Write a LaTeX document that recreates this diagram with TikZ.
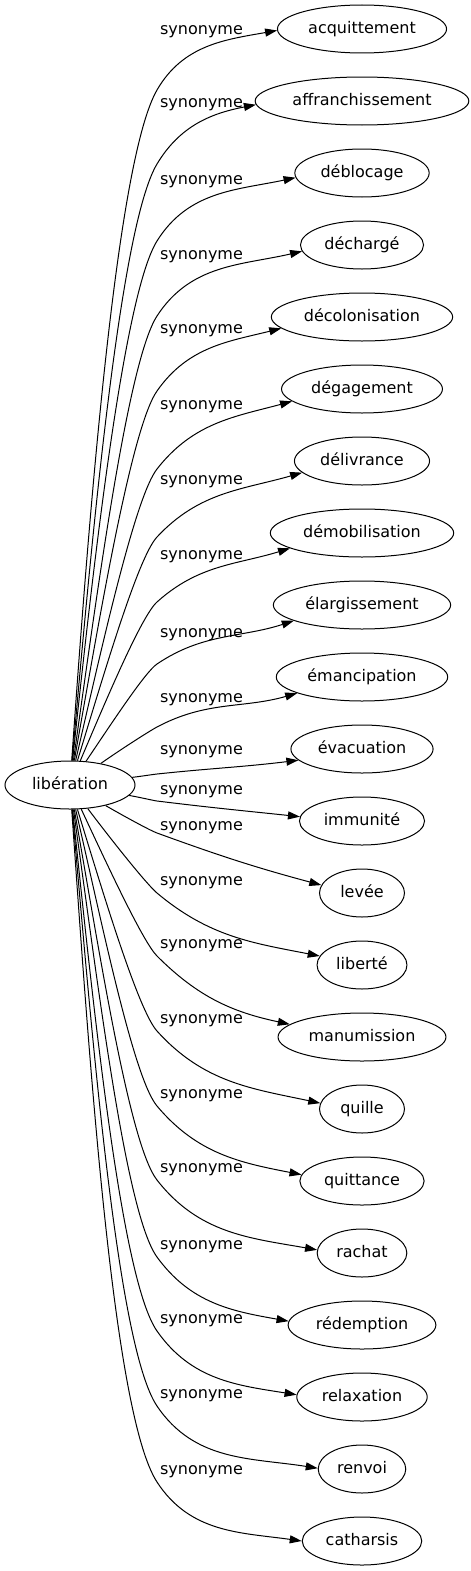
\documentclass[tikz,border=0pt]{standalone}
\usepackage{fontspec}
\setmainfont{DejaVu Sans}
\usetikzlibrary{shapes.geometric,arrows.meta}
\tikzset{
    word/.style={draw, ellipse, line width=1pt, minimum height=48pt, minimum width=85pt,
        inner xsep=6pt, text height=12pt, text depth=3pt, font=\fontsize{16}{19}\selectfont},
    rel/.style={font=\fontsize{16}{19}\selectfont},
    syn/.style={line width=1pt, -{Triangle[length=12pt,width=8pt]}},
}
\begin{document}
\begin{tikzpicture}[x=1pt,y=1pt]
    \useasboundingbox (0,0) rectangle (471,-1571);
    \node[word, minimum width=130pt, inner xsep=8pt] (lib) at (70,-785) {libération};
    % index/word/label y/knee y/knee angle/end anchor/arrival angle
    \foreach \i/\wname/\ly/\ky/\kt/\ea/\ia in {
        1/acquittement/32/90/60/181/10,
        2/affranchissement/105/164/59/182/11,
        3/déblocage/182/241/58/184/12,
        4/déchargé/257/316/57/186/13,
        5/décolonisation/331/391/55/188/14,
        6/dégagement/407/469/52/190/15,
        7/délivrance/482/537/47/191/16,
        8/démobilisation/557/602/42/192/17,
        9/élargissement/635/664/34/193/18,
        10/émancipation/700/727/28/194/16,
        11/évacuation/752/774/6/190/7,
        12/immunité/792/801/-7/176/-6,
        13/levée/828/833/-20/169/-15,
        14/liberté/883/893/-40/168/-11,
        15/manumission/946/956/-45/170/-12,
        16/quille/1021/1031/-48/172/-12,
        17/quittance/1096/1106/-50/174/-11,
        18/rachat/1170/1180/-52/176/-10,
        19/rédemption/1247/1257/-54/177/-10,
        20/relaxation/1321/1331/-55/178/-9,
        21/renvoi/1396/1406/-56/179/-9,
        22/catharsis/1472/1482/-57/180/-8} {
        \node[word] (w\i) at (362,{-29-72*(\i-1)}) {\wname};
        \node[rel] (s\i) at (201.5,-\ly) {synonyme};
        \coordinate (k\i) at (157,-\ky);
        \pgfmathtruncatemacro\oa{1.04*atan2(785-\ky,87)}
        \pgfmathtruncatemacro\ka{\kt+180}
        \pgfmathtruncatemacro\ib{\ia+180}
        \draw[syn] (lib) to[out=\oa, in=\ka, in looseness=0.3] (k\i)
            to[out=\kt, in=\ib] (w\i.\ea);
    }
\end{tikzpicture}
\end{document}
